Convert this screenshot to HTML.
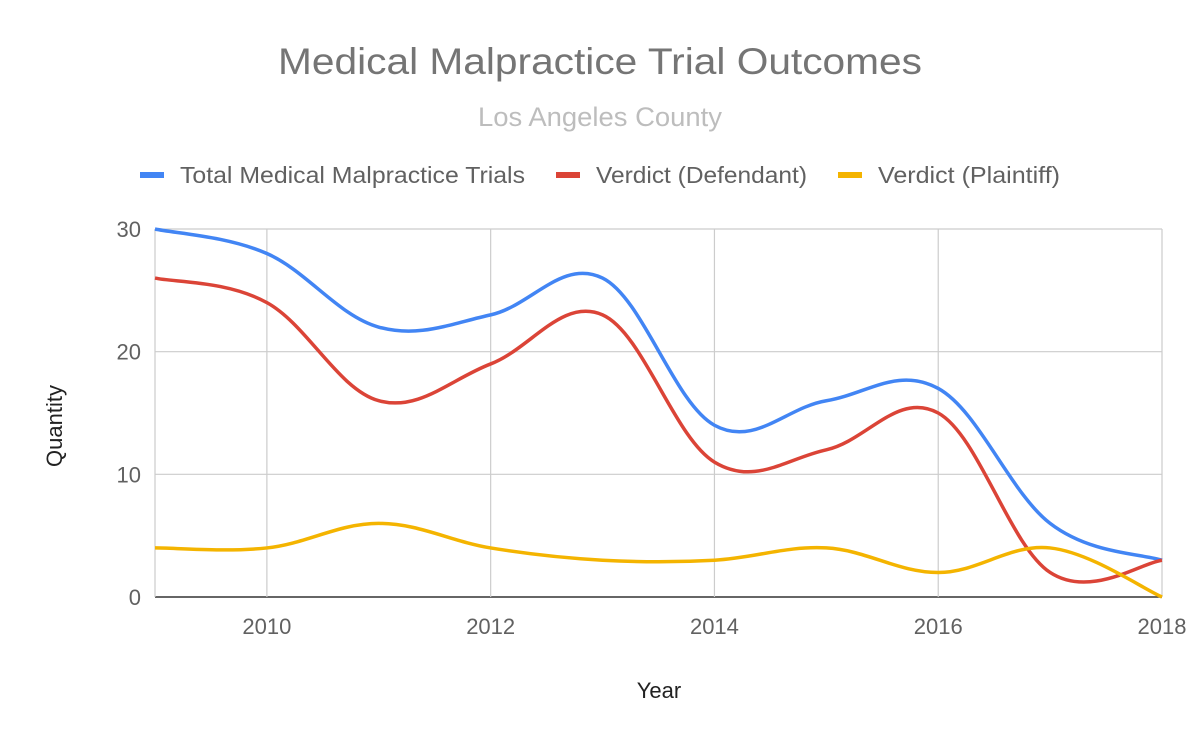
<!DOCTYPE html>
<html><head><meta charset="utf-8"><style>
body{margin:0;background:#fff;}
svg{display:block;font-family:"Liberation Sans",Arial,sans-serif;}
</style></head><body>
<svg id="chart" width="1200" height="742">
<text x="600" y="74" text-anchor="middle" font-size="37" fill="#757575" textLength="644" lengthAdjust="spacingAndGlyphs">Medical Malpractice Trial Outcomes</text>
<text x="600" y="126" text-anchor="middle" font-size="27" fill="#bdbdbd" textLength="244" lengthAdjust="spacingAndGlyphs">Los Angeles County</text>
<g id="legend"></g>
<g id="grid"></g>
<g id="series"></g>
<g id="ticks"></g>
<text x="659" y="698" text-anchor="middle" font-size="22" fill="#222">Year</text>
<text x="62" y="426" text-anchor="middle" font-size="22" fill="#222" transform="rotate(-90 62 426)">Quantity</text>
</svg>
<script>
const years=[2009,2010,2011,2012,2013,2014,2015,2016,2017,2018];
const totalTrials=[30,28,22,23,26,14,16,17,6,3];
const defendantVerdicts=[26,24,16,19,23,11,12,15,2,3];
const plaintiffVerdicts=[4,4,6,4,3,3,4,2,4,0];
const xTicks=[2010,2012,2014,2016,2018];
const yTicks=[0,10,20,30];
const seriesNames=["Total Medical Malpractice Trials","Verdict (Defendant)","Verdict (Plaintiff)"];
const colors=["#4285f4","#db4437","#f4b400"];
const NS="http://www.w3.org/2000/svg";
const X0=155,X1=1162,Y0=597,Y1=229;
const xs=v=>X0+(v-2009)/(2018-2009)*(X1-X0);
const ys=v=>Y0-(v/30)*(Y0-Y1);
function mk(tag,attrs,parent){const e=document.createElementNS(NS,tag);for(const k in attrs)e.setAttribute(k,attrs[k]);parent.appendChild(e);return e;}
const grid=document.getElementById('grid'),ticks=document.getElementById('ticks'),ser=document.getElementById('series'),leg=document.getElementById('legend');
yTicks.forEach(t=>{
 const l=mk('line',{x1:X0,x2:X1,y1:ys(t),y2:ys(t),stroke:t===0?'#333':'#ccc','stroke-width':t===0?1.5:1.2},grid);
 
 
 const tx=mk('text',{x:141,y:ys(t)+8,'text-anchor':'end','font-size':22,fill:'#616161'},ticks);tx.textContent=t;
 
 
});
[2009].concat(xTicks).forEach(t=>{
 const l=mk('line',{x1:xs(t),x2:xs(t),y1:Y1,y2:Y0,stroke:'#ccc','stroke-width':1.2},grid);
 
 
});
xTicks.forEach(t=>{
 const tx=mk('text',{x:xs(t),y:634,'text-anchor':'middle','font-size':22,fill:'#616161'},ticks);tx.textContent=t;
 
 
});
function pathFor(vals){
 const p=years.map((y,i)=>[xs(y),ys(vals[i])]);
 let d='M'+p[0][0]+','+p[0][1];const s=0.18;
 for(let i=0;i<p.length-1;i++){
  const a=p[Math.max(i-1,0)],b=p[i],c=p[i+1],e=p[Math.min(i+2,p.length-1)];
  const c1=[b[0]+(c[0]-a[0])*s,b[1]+(c[1]-a[1])*s],c2=[c[0]-(e[0]-b[0])*s,c[1]-(e[1]-b[1])*s];
  d+=` C${c1[0]},${c1[1]} ${c2[0]},${c2[1]} ${c[0]},${c[1]}`;
 }
 return d;
}
const data=[totalTrials,defendantVerdicts,plaintiffVerdicts];
const keys=['total-trials-line','defendant-verdict-line','plaintiff-verdict-line'];
data.forEach((vals,i)=>{
 const p=mk('path',{d:pathFor(vals),fill:'none',stroke:colors[i],'stroke-width':3.5,'stroke-linejoin':'round'},ser);
 
 
});
const lx=[140,556,838];
const lw=[345,211,182];
seriesNames.forEach((n,i)=>{
 const g=mk('g',{},leg);
 
 
 mk('line',{x1:lx[i],x2:lx[i]+24,y1:175,y2:175,stroke:colors[i],'stroke-width':6},g);
 const t=mk('text',{x:lx[i]+40,y:183,'font-size':23,fill:'#616161',textLength:lw[i],lengthAdjust:'spacingAndGlyphs'},g);t.textContent=n;
});
</script>
</body></html>
